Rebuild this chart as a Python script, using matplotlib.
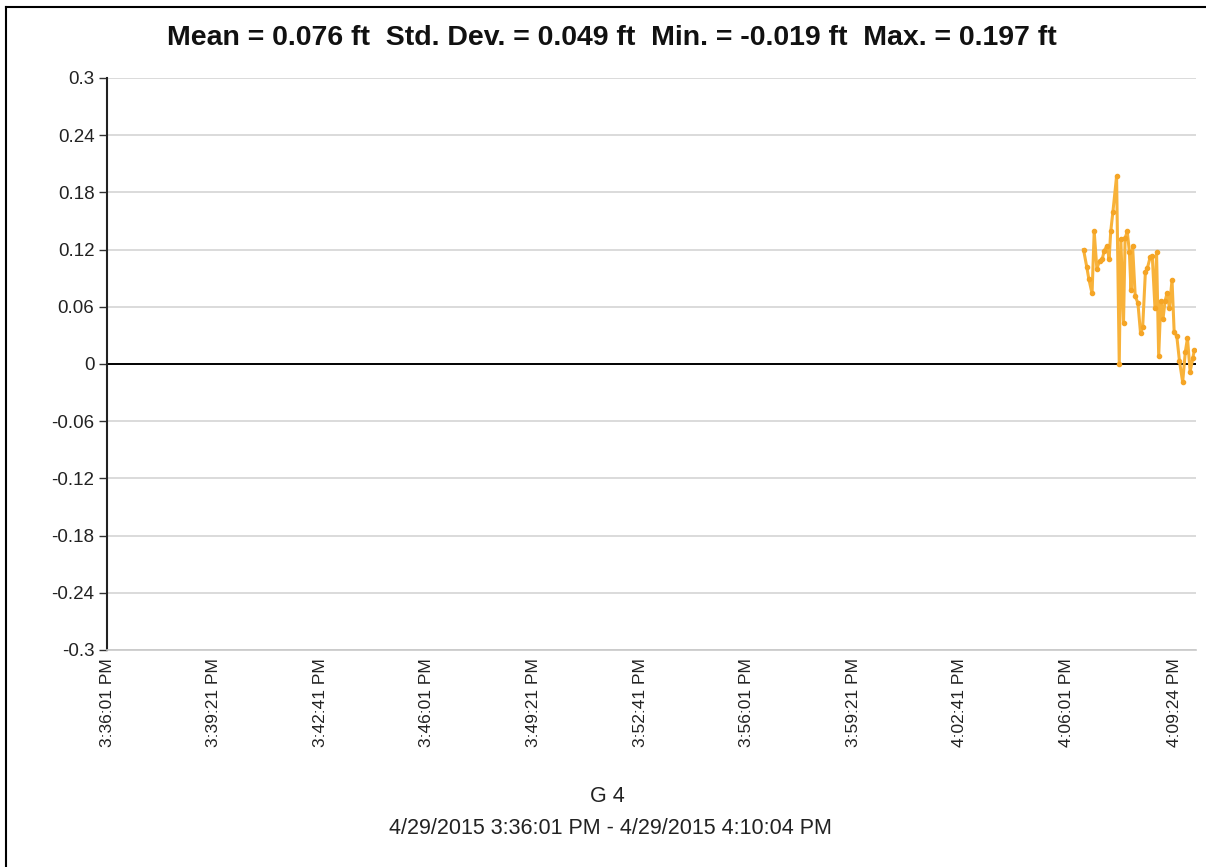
import matplotlib
matplotlib.use("Agg")
import matplotlib.pyplot as plt
from matplotlib.lines import Line2D

# seconds after 3:36:01 PM
t_sec = [1832, 1838, 1842, 1848, 1852, 1857, 1862, 1867, 1871, 1876, 1880, 1883,
         1887, 1894, 1899, 1902, 1907, 1910, 1914, 1918, 1921, 1924, 1929, 1934,
         1939, 1943, 1948, 1952, 1957, 1961, 1966, 1969, 1973, 1977, 1981, 1985,
         1989, 1993, 1998, 2002, 2007, 2012, 2018, 2023, 2027, 2032, 2037, 2040]
values = [0.120, 0.102, 0.089, 0.074, 0.139, 0.100, 0.108, 0.110, 0.119, 0.124,
          0.110, 0.139, 0.159, 0.197, 0.000, 0.131, 0.043, 0.132, 0.139, 0.118,
          0.078, 0.124, 0.071, 0.064, 0.032, 0.039, 0.096, 0.101, 0.112, 0.113,
          0.059, 0.117, 0.008, 0.066, 0.047, 0.066, 0.075, 0.059, 0.088, 0.034,
          0.029, 0.003, -0.019, 0.013, 0.027, -0.008, 0.006, 0.015]

x_tick_sec = [0, 200, 400, 600, 800, 1000, 1200, 1400, 1600, 1800, 2003]
x_tick_labels = ["3:36:01 PM", "3:39:21 PM", "3:42:41 PM", "3:46:01 PM", "3:49:21 PM",
                 "3:52:41 PM", "3:56:01 PM", "3:59:21 PM", "4:02:41 PM", "4:06:01 PM",
                 "4:09:24 PM"]
y_ticks = [-0.3, -0.24, -0.18, -0.12, -0.06, 0, 0.06, 0.12, 0.18, 0.24, 0.3]
y_tick_labels = ["-0.3", "-0.24", "-0.18", "-0.12", "-0.06", "0", "0.06", "0.12",
                 "0.18", "0.24", "0.3"]
x_end = 2043

title = "Mean = 0.076 ft  Std. Dev. = 0.049 ft  Min. = -0.019 ft  Max. = 0.197 ft"
xlabel1 = "G 4"
xlabel2 = "4/29/2015 3:36:01 PM - 4/29/2015 4:10:04 PM"

plt.rcParams['font.family'] = ['Liberation Sans', 'DejaVu Sans']

fig = plt.figure(figsize=(12.06, 8.67), dpi=100)
ax = fig.add_axes([107/1206, 1-650/867, (1196-107)/1206, (650-78)/867])

for yv in y_ticks:
    if yv == 0:
        continue
    ax.axhline(yv, color='#d4d4d4', lw=1.2, zorder=1)
ax.axhline(0, color='black', lw=1.4, zorder=2)

ax.plot(t_sec, values, color='#F8B23A', lw=2.2, marker='o', ms=3,
        markerfacecolor='#F5A526', markeredgecolor='#F5A526', zorder=3)

ax.set_xlim(0, x_end)
ax.set_ylim(-0.3, 0.3)
ax.set_yticks(y_ticks)
ax.set_yticklabels(y_tick_labels, fontsize=13.5, color='#222222')
ax.set_xticks(x_tick_sec)
ax.set_xticklabels(x_tick_labels, rotation=90, fontsize=12.5, color='#222222')
ax.tick_params(axis='x', length=0, pad=6)
ax.tick_params(axis='y', length=6, width=1, color='#333333', pad=3)

for s in ['top', 'right']:
    ax.spines[s].set_visible(False)
ax.spines['left'].set_color('#222222')
ax.spines['left'].set_linewidth(1.5)
ax.spines['bottom'].set_color('#c8c8c8')
ax.spines['bottom'].set_linewidth(1.2)

fig.text(612/1206, 1-38/867, title, ha='center', va='center', fontsize=20.5,
         fontweight='bold', color='#111111')
fig.text(607/1206, 1-797/867, xlabel1, ha='center', va='center', fontsize=15.5,
         color='#222222')
fig.text(610/1206, 1-828/867, xlabel2, ha='center', va='center', fontsize=15.5,
         color='#222222')

# figure frame (left and top)
fig.add_artist(Line2D([6/1206, 6/1206], [0, 1-7/867], transform=fig.transFigure,
                      color='black', lw=1.5))
fig.add_artist(Line2D([6/1206, 1], [1-7/867, 1-7/867], transform=fig.transFigure,
                      color='black', lw=1.5))

fig.savefig("out.png", dpi=100, facecolor='white')
